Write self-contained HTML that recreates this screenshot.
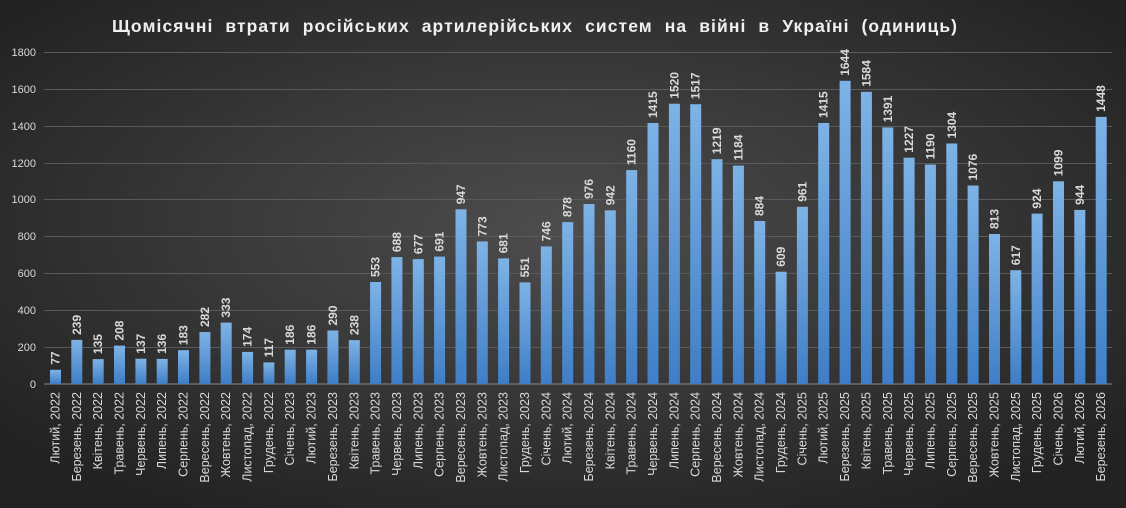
<!DOCTYPE html>
<html><head><meta charset="utf-8"><style>
html,body{margin:0;padding:0;background:#2a2a2a}
svg{display:block}
text{font-family:"Liberation Sans","DejaVu Sans",sans-serif}
.v{font-size:12px;font-weight:bold;fill:#d9d9d9}
.c{font-size:12.5px;fill:#d9d9d9;text-anchor:end}
.y{font-size:11px;fill:#d9d9d9;text-anchor:end}
</style></head><body>
<svg width="1126" height="508" viewBox="0 0 1126 508" xmlns="http://www.w3.org/2000/svg">
<defs>
<radialGradient id="bg" cx="50%" cy="45%" r="65%">
<stop offset="0" stop-color="#4d4d4d"/><stop offset="1" stop-color="#222"/>
</radialGradient>
<linearGradient id="bar" x1="0" y1="0" x2="0" y2="1">
<stop offset="0" stop-color="#7eb3e6"/><stop offset="1" stop-color="#3f7ec6"/>
</linearGradient>
</defs>
<rect width="1126" height="508" fill="url(#bg)"/>
<text x="112" y="32" textLength="845" font-size="17.5" font-weight="bold" fill="#f0f0f0" word-spacing="6">Щомісячні  втрати  російських  артилерійських  систем  на  війні  в  Україні  (одиниць)</text>
<g stroke="#5a5a5a" stroke-width="1">
<line x1="44" x2="1112" y1="52.5" y2="52.5"/><line x1="44" x2="1112" y1="89.5" y2="89.5"/>
<line x1="44" x2="1112" y1="126.5" y2="126.5"/><line x1="44" x2="1112" y1="163.5" y2="163.5"/>
<line x1="44" x2="1112" y1="199.5" y2="199.5"/><line x1="44" x2="1112" y1="236.5" y2="236.5"/>
<line x1="44" x2="1112" y1="273.5" y2="273.5"/><line x1="44" x2="1112" y1="310.5" y2="310.5"/>
<line x1="44" x2="1112" y1="347.5" y2="347.5"/>
</g>
<line x1="44" x2="1112" y1="384" y2="384" stroke="#8a8a8a"/>
<g>
<text class="y" x="36" y="56">1800</text><text class="y" x="36" y="93">1600</text>
<text class="y" x="36" y="130">1400</text><text class="y" x="36" y="167">1200</text>
<text class="y" x="36" y="203">1000</text><text class="y" x="36" y="240">800</text>
<text class="y" x="36" y="277">600</text><text class="y" x="36" y="314">400</text>
<text class="y" x="36" y="351">200</text><text class="y" x="36" y="388">0</text>
</g>
<g fill="url(#bar)">
<g transform="translate(55.5)"><rect x="-5.5" y="369.8" width="11" height="14.2"/><text class="v" transform="translate(4,364.8) rotate(-90)">77</text><text class="c" transform="translate(4,392) rotate(-90)">Лютий, 2022</text></g>
<g transform="translate(76.8)"><rect x="-5.5" y="339.9" width="11" height="44.1"/><text class="v" transform="translate(4,334.9) rotate(-90)">239</text><text class="c" transform="translate(4,392) rotate(-90)">Березень, 2022</text></g>
<g transform="translate(98.2)"><rect x="-5.5" y="359.1" width="11" height="24.9"/><text class="v" transform="translate(4,354.1) rotate(-90)">135</text><text class="c" transform="translate(4,392) rotate(-90)">Квітень, 2022</text></g>
<g transform="translate(119.5)"><rect x="-5.5" y="345.6" width="11" height="38.4"/><text class="v" transform="translate(4,340.6) rotate(-90)">208</text><text class="c" transform="translate(4,392) rotate(-90)">Травень, 2022</text></g>
<g transform="translate(140.9)"><rect x="-5.5" y="358.7" width="11" height="25.3"/><text class="v" transform="translate(4,353.7) rotate(-90)">137</text><text class="c" transform="translate(4,392) rotate(-90)">Червень, 2022</text></g>
<g transform="translate(162.2)"><rect x="-5.5" y="358.9" width="11" height="25.1"/><text class="v" transform="translate(4,353.9) rotate(-90)">136</text><text class="c" transform="translate(4,392) rotate(-90)">Липень, 2022</text></g>
<g transform="translate(183.5)"><rect x="-5.5" y="350.2" width="11" height="33.8"/><text class="v" transform="translate(4,345.2) rotate(-90)">183</text><text class="c" transform="translate(4,392) rotate(-90)">Серпень, 2022</text></g>
<g transform="translate(204.9)"><rect x="-5.5" y="332" width="11" height="52"/><text class="v" transform="translate(4,327) rotate(-90)">282</text><text class="c" transform="translate(4,392) rotate(-90)">Вересень, 2022</text></g>
<g transform="translate(226.2)"><rect x="-5.5" y="322.6" width="11" height="61.4"/><text class="v" transform="translate(4,317.6) rotate(-90)">333</text><text class="c" transform="translate(4,392) rotate(-90)">Жовтень, 2022</text></g>
<g transform="translate(247.6)"><rect x="-5.5" y="351.9" width="11" height="32.1"/><text class="v" transform="translate(4,346.9) rotate(-90)">174</text><text class="c" transform="translate(4,392) rotate(-90)">Листопад, 2022</text></g>
<g transform="translate(268.9)"><rect x="-5.5" y="362.4" width="11" height="21.6"/><text class="v" transform="translate(4,357.4) rotate(-90)">117</text><text class="c" transform="translate(4,392) rotate(-90)">Грудень, 2022</text></g>
<g transform="translate(290.2)"><rect x="-5.5" y="349.7" width="11" height="34.3"/><text class="v" transform="translate(4,344.7) rotate(-90)">186</text><text class="c" transform="translate(4,392) rotate(-90)">Січень, 2023</text></g>
<g transform="translate(311.6)"><rect x="-5.5" y="349.7" width="11" height="34.3"/><text class="v" transform="translate(4,344.7) rotate(-90)">186</text><text class="c" transform="translate(4,392) rotate(-90)">Лютий, 2023</text></g>
<g transform="translate(332.9)"><rect x="-5.5" y="330.5" width="11" height="53.5"/><text class="v" transform="translate(4,325.5) rotate(-90)">290</text><text class="c" transform="translate(4,392) rotate(-90)">Березень, 2023</text></g>
<g transform="translate(354.3)"><rect x="-5.5" y="340.1" width="11" height="43.9"/><text class="v" transform="translate(4,335.1) rotate(-90)">238</text><text class="c" transform="translate(4,392) rotate(-90)">Квітень, 2023</text></g>
<g transform="translate(375.6)"><rect x="-5.5" y="282" width="11" height="102"/><text class="v" transform="translate(4,277) rotate(-90)">553</text><text class="c" transform="translate(4,392) rotate(-90)">Травень, 2023</text></g>
<g transform="translate(396.9)"><rect x="-5.5" y="257.1" width="11" height="126.9"/><text class="v" transform="translate(4,252.1) rotate(-90)">688</text><text class="c" transform="translate(4,392) rotate(-90)">Червень, 2023</text></g>
<g transform="translate(418.3)"><rect x="-5.5" y="259.1" width="11" height="124.9"/><text class="v" transform="translate(4,254.1) rotate(-90)">677</text><text class="c" transform="translate(4,392) rotate(-90)">Липень, 2023</text></g>
<g transform="translate(439.6)"><rect x="-5.5" y="256.6" width="11" height="127.4"/><text class="v" transform="translate(4,251.6) rotate(-90)">691</text><text class="c" transform="translate(4,392) rotate(-90)">Серпень, 2023</text></g>
<g transform="translate(461)"><rect x="-5.5" y="209.3" width="11" height="174.7"/><text class="v" transform="translate(4,204.3) rotate(-90)">947</text><text class="c" transform="translate(4,392) rotate(-90)">Вересень, 2023</text></g>
<g transform="translate(482.3)"><rect x="-5.5" y="241.4" width="11" height="142.6"/><text class="v" transform="translate(4,236.4) rotate(-90)">773</text><text class="c" transform="translate(4,392) rotate(-90)">Жовтень, 2023</text></g>
<g transform="translate(503.6)"><rect x="-5.5" y="258.4" width="11" height="125.6"/><text class="v" transform="translate(4,253.4) rotate(-90)">681</text><text class="c" transform="translate(4,392) rotate(-90)">Листопад, 2023</text></g>
<g transform="translate(525)"><rect x="-5.5" y="282.4" width="11" height="101.6"/><text class="v" transform="translate(4,277.4) rotate(-90)">551</text><text class="c" transform="translate(4,392) rotate(-90)">Грудень, 2023</text></g>
<g transform="translate(546.3)"><rect x="-5.5" y="246.4" width="11" height="137.6"/><text class="v" transform="translate(4,241.4) rotate(-90)">746</text><text class="c" transform="translate(4,392) rotate(-90)">Січень, 2024</text></g>
<g transform="translate(567.7)"><rect x="-5.5" y="222.1" width="11" height="161.9"/><text class="v" transform="translate(4,217.1) rotate(-90)">878</text><text class="c" transform="translate(4,392) rotate(-90)">Лютий, 2024</text></g>
<g transform="translate(589)"><rect x="-5.5" y="204" width="11" height="180"/><text class="v" transform="translate(4,199) rotate(-90)">976</text><text class="c" transform="translate(4,392) rotate(-90)">Березень, 2024</text></g>
<g transform="translate(610.3)"><rect x="-5.5" y="210.3" width="11" height="173.7"/><text class="v" transform="translate(4,205.3) rotate(-90)">942</text><text class="c" transform="translate(4,392) rotate(-90)">Квітень, 2024</text></g>
<g transform="translate(631.7)"><rect x="-5.5" y="170.1" width="11" height="213.9"/><text class="v" transform="translate(4,165.1) rotate(-90)">1160</text><text class="c" transform="translate(4,392) rotate(-90)">Травень, 2024</text></g>
<g transform="translate(653)"><rect x="-5.5" y="123" width="11" height="261"/><text class="v" transform="translate(4,118) rotate(-90)">1415</text><text class="c" transform="translate(4,392) rotate(-90)">Червень, 2024</text></g>
<g transform="translate(674.4)"><rect x="-5.5" y="103.7" width="11" height="280.3"/><text class="v" transform="translate(4,98.7) rotate(-90)">1520</text><text class="c" transform="translate(4,392) rotate(-90)">Липень, 2024</text></g>
<g transform="translate(695.7)"><rect x="-5.5" y="104.2" width="11" height="279.8"/><text class="v" transform="translate(4,99.2) rotate(-90)">1517</text><text class="c" transform="translate(4,392) rotate(-90)">Серпень, 2024</text></g>
<g transform="translate(717)"><rect x="-5.5" y="159.2" width="11" height="224.8"/><text class="v" transform="translate(4,154.2) rotate(-90)">1219</text><text class="c" transform="translate(4,392) rotate(-90)">Вересень, 2024</text></g>
<g transform="translate(738.4)"><rect x="-5.5" y="165.6" width="11" height="218.4"/><text class="v" transform="translate(4,160.6) rotate(-90)">1184</text><text class="c" transform="translate(4,392) rotate(-90)">Жовтень, 2024</text></g>
<g transform="translate(759.7)"><rect x="-5.5" y="221" width="11" height="163"/><text class="v" transform="translate(4,216) rotate(-90)">884</text><text class="c" transform="translate(4,392) rotate(-90)">Листопад, 2024</text></g>
<g transform="translate(781.1)"><rect x="-5.5" y="271.7" width="11" height="112.3"/><text class="v" transform="translate(4,266.7) rotate(-90)">609</text><text class="c" transform="translate(4,392) rotate(-90)">Грудень, 2024</text></g>
<g transform="translate(802.4)"><rect x="-5.5" y="206.8" width="11" height="177.2"/><text class="v" transform="translate(4,201.8) rotate(-90)">961</text><text class="c" transform="translate(4,392) rotate(-90)">Січень, 2025</text></g>
<g transform="translate(823.7)"><rect x="-5.5" y="123" width="11" height="261"/><text class="v" transform="translate(4,118) rotate(-90)">1415</text><text class="c" transform="translate(4,392) rotate(-90)">Лютий, 2025</text></g>
<g transform="translate(845.1)"><rect x="-5.5" y="80.8" width="11" height="303.2"/><text class="v" transform="translate(4,75.8) rotate(-90)">1644</text><text class="c" transform="translate(4,392) rotate(-90)">Березень, 2025</text></g>
<g transform="translate(866.4)"><rect x="-5.5" y="91.8" width="11" height="292.2"/><text class="v" transform="translate(4,86.8) rotate(-90)">1584</text><text class="c" transform="translate(4,392) rotate(-90)">Квітень, 2025</text></g>
<g transform="translate(887.8)"><rect x="-5.5" y="127.4" width="11" height="256.6"/><text class="v" transform="translate(4,122.4) rotate(-90)">1391</text><text class="c" transform="translate(4,392) rotate(-90)">Травень, 2025</text></g>
<g transform="translate(909.1)"><rect x="-5.5" y="157.7" width="11" height="226.3"/><text class="v" transform="translate(4,152.7) rotate(-90)">1227</text><text class="c" transform="translate(4,392) rotate(-90)">Червень, 2025</text></g>
<g transform="translate(930.4)"><rect x="-5.5" y="164.5" width="11" height="219.5"/><text class="v" transform="translate(4,159.5) rotate(-90)">1190</text><text class="c" transform="translate(4,392) rotate(-90)">Липень, 2025</text></g>
<g transform="translate(951.8)"><rect x="-5.5" y="143.5" width="11" height="240.5"/><text class="v" transform="translate(4,138.5) rotate(-90)">1304</text><text class="c" transform="translate(4,392) rotate(-90)">Серпень, 2025</text></g>
<g transform="translate(973.1)"><rect x="-5.5" y="185.5" width="11" height="198.5"/><text class="v" transform="translate(4,180.5) rotate(-90)">1076</text><text class="c" transform="translate(4,392) rotate(-90)">Вересень, 2025</text></g>
<g transform="translate(994.5)"><rect x="-5.5" y="234" width="11" height="150"/><text class="v" transform="translate(4,229) rotate(-90)">813</text><text class="c" transform="translate(4,392) rotate(-90)">Жовтень, 2025</text></g>
<g transform="translate(1015.8)"><rect x="-5.5" y="270.2" width="11" height="113.8"/><text class="v" transform="translate(4,265.2) rotate(-90)">617</text><text class="c" transform="translate(4,392) rotate(-90)">Листопад, 2025</text></g>
<g transform="translate(1037.1)"><rect x="-5.5" y="213.6" width="11" height="170.4"/><text class="v" transform="translate(4,208.6) rotate(-90)">924</text><text class="c" transform="translate(4,392) rotate(-90)">Грудень, 2025</text></g>
<g transform="translate(1058.5)"><rect x="-5.5" y="181.3" width="11" height="202.7"/><text class="v" transform="translate(4,176.3) rotate(-90)">1099</text><text class="c" transform="translate(4,392) rotate(-90)">Січень, 2026</text></g>
<g transform="translate(1079.8)"><rect x="-5.5" y="209.9" width="11" height="174.1"/><text class="v" transform="translate(4,204.9) rotate(-90)">944</text><text class="c" transform="translate(4,392) rotate(-90)">Лютий, 2026</text></g>
<g transform="translate(1101.2)"><rect x="-5.5" y="116.9" width="11" height="267.1"/><text class="v" transform="translate(4,111.9) rotate(-90)">1448</text><text class="c" transform="translate(4,392) rotate(-90)">Березень, 2026</text></g>
</g>
</svg>
</body></html>
